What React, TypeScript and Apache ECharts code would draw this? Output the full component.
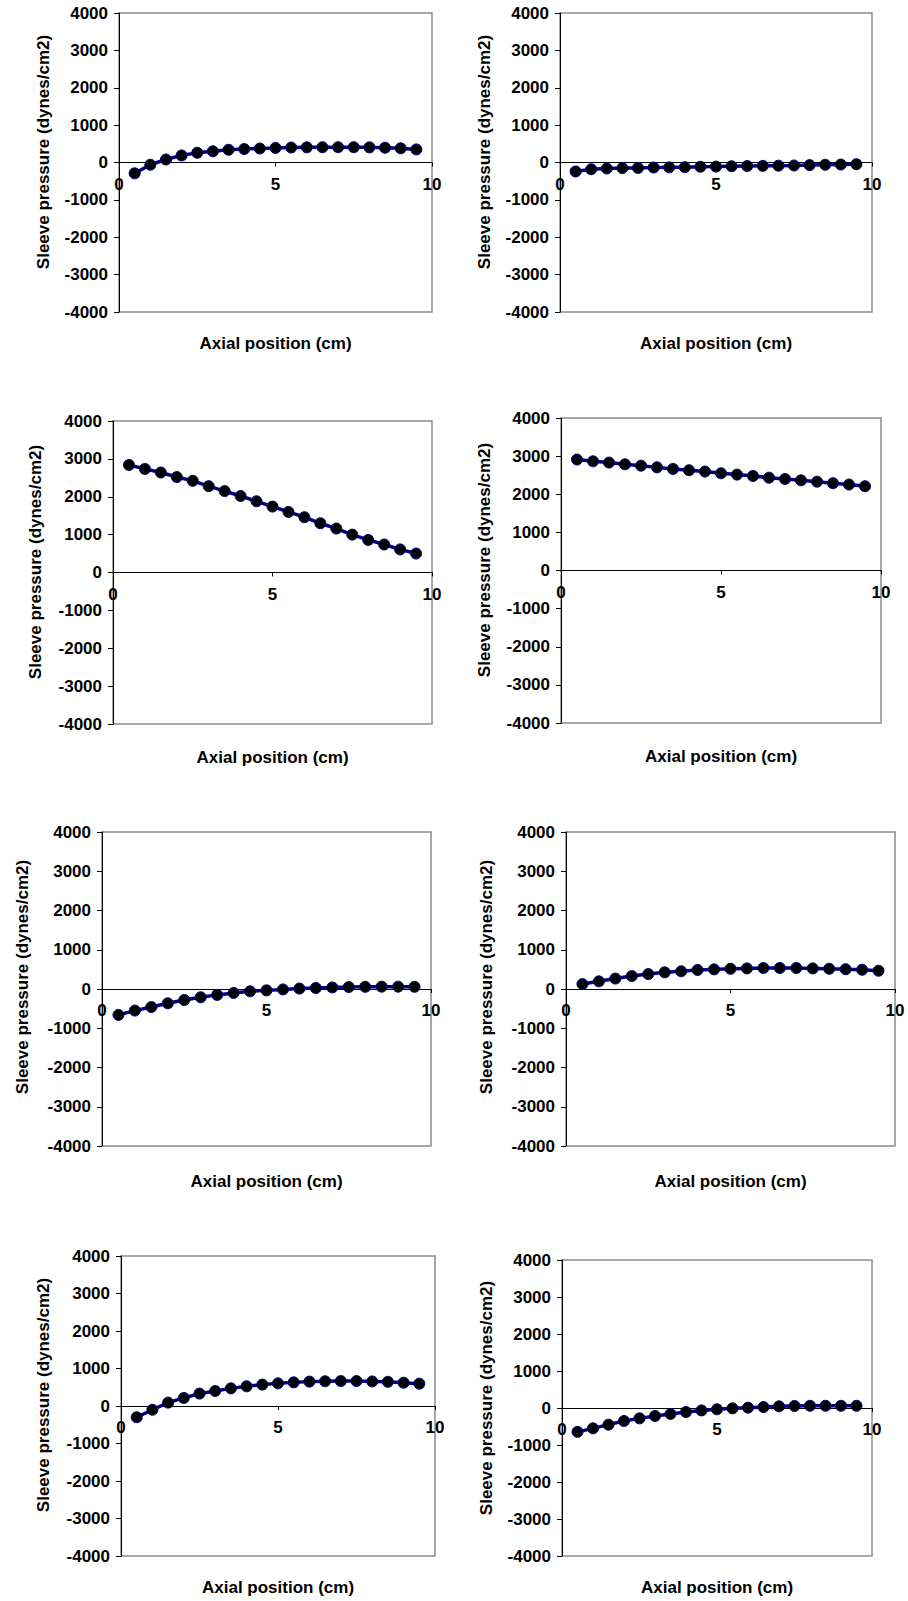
import React, { useEffect, useRef } from "react";
import * as echarts from "echarts";

// Axial positions (cm)
const positions = [0.5, 1.0, 1.5, 2.0, 2.5, 3.0, 3.5, 4.0, 4.5, 5.0, 5.5, 6.0, 6.5, 7.0, 7.5, 8.0, 8.5, 9.0, 9.5];

// Sleeve pressure (dynes/cm2) per panel
const panel1 = [-290, -60, 80, 190, 260, 300, 340, 360, 375, 390, 400, 405, 410, 410, 410, 405, 395, 380, 350];
const panel2 = [-240, -180, -160, -150, -145, -135, -130, -125, -115, -110, -100, -95, -90, -85, -80, -70, -60, -55, -45];
const panel3 = [2840, 2735, 2640, 2520, 2420, 2280, 2150, 2020, 1880, 1740, 1600, 1460, 1300, 1160, 1000, 860, 740, 610, 500];
const panel4 = [2910, 2865, 2830, 2785, 2750, 2705, 2665, 2630, 2595, 2550, 2515, 2480, 2435, 2400, 2365, 2330, 2290, 2255, 2210];
const panel5 = [-660, -550, -460, -365, -280, -210, -150, -100, -60, -35, -10, 10, 25, 40, 50, 55, 60, 60, 55];
const panel6 = [125, 195, 265, 330, 380, 425, 450, 485, 500, 515, 525, 535, 535, 535, 525, 515, 505, 490, 465];
const panel7 = [-300, -100, 90, 215, 330, 400, 470, 525, 570, 605, 630, 650, 660, 665, 665, 655, 645, 620, 595];
const panel8 = [-645, -550, -450, -350, -280, -215, -160, -110, -65, -35, -10, 10, 25, 45, 55, 60, 60, 60, 60];

const seriesData = [panel1, panel2, panel3, panel4, panel5, panel6, panel7, panel8];

// Axis ticks
const yMin = -4000;
const yMax = 4000;
const yStep = 1000;
const xMin = 0;
const xMax = 10;
const xStep = 5;
const xCross = 0; // x axis crosses the y axis at this value

const xTitle = "Axial position (cm)";
const yTitle = "Sleeve pressure (dynes/cm2)";

// Layout of each plot area (pixels)
const layout = [
  { l: 119, r: 432, t: 13, b: 312, xt: 343, yx: 43, yc: 152 },
  { l: 560, r: 872, t: 13, b: 312, xt: 343, yx: 484, yc: 152 },
  { l: 113, r: 432, t: 421, b: 724, xt: 757, yx: 35, yc: 562 },
  { l: 561, r: 881, t: 418, b: 723, xt: 756, yx: 484, yc: 560 },
  { l: 102, r: 431, t: 832, b: 1146, xt: 1181, yx: 22, yc: 977 },
  { l: 566, r: 895, t: 832, b: 1146, xt: 1181, yx: 486, yc: 977 },
  { l: 121, r: 435, t: 1256, b: 1556, xt: 1587, yx: 43, yc: 1395 },
  { l: 562, r: 872, t: 1260, b: 1556, xt: 1587, yx: 486, yc: 1398 },
];

const FONT = "'Liberation Sans', Arial, sans-serif";

export default function App() {
  const ref = useRef<HTMLDivElement>(null);

  useEffect(() => {
    if (!ref.current) return;
    const chart = echarts.init(ref.current, undefined, { renderer: "svg" });

    const grids = layout.map((p) => ({
      left: p.l,
      top: p.t,
      width: p.r - p.l,
      height: p.b - p.t,
      show: true,
      borderColor: "#8c8c8c",
      borderWidth: 1.5,
      backgroundColor: "#ffffff",
      containLabel: false,
    }));

    const xAxes = layout.map((p, i) => ({
      type: "value",
      gridIndex: i,
      min: xMin,
      max: xMax,
      interval: xStep,
      position: "bottom",
      offset: -((p.b - p.t) * (xCross - yMin)) / (yMax - yMin),
      axisLine: { show: true, onZero: false, lineStyle: { color: "#000", width: 1 } },
      axisTick: { show: true, length: 4, lineStyle: { color: "#000" } },
      axisLabel: {
        color: "#000",
        fontFamily: FONT,
        fontWeight: "bold",
        fontSize: 17,
        margin: 13,
        formatter: (v: number) => String(v),
      },
      splitLine: { show: false },
    }));

    const yAxes = layout.map((_, i) => ({
      type: "value",
      gridIndex: i,
      min: yMin,
      max: yMax,
      interval: yStep,
      axisLine: { show: true, onZero: false, lineStyle: { color: "#000", width: 1 } },
      axisTick: { show: true, length: 5, lineStyle: { color: "#000" } },
      axisLabel: {
        color: "#000",
        fontFamily: FONT,
        fontWeight: "bold",
        fontSize: 17,
        margin: 11,
        formatter: (v: number) => String(v),
      },
      splitLine: { show: false },
    }));

    const series = seriesData.map((vals, i) => ({
      type: "line",
      xAxisIndex: i,
      yAxisIndex: i,
      data: positions.map((x, k) => [x, vals[k]]),
      symbol: "circle",
      symbolSize: 11,
      lineStyle: { color: "#000080", width: 3.5 },
      itemStyle: { color: "#000000", borderColor: "#000080", borderWidth: 1 },
      z: 3,
    }));

    const graphics: any[] = [];
    layout.forEach((p) => {
      graphics.push({
        type: "text",
        x: (p.l + p.r) / 2,
        y: p.xt,
        style: {
          text: xTitle,
          fill: "#000",
          font: `bold 17px ${FONT}`,
          align: "center",
          verticalAlign: "middle",
        },
      });
      graphics.push({
        type: "text",
        x: p.yx,
        y: p.yc,
        rotation: Math.PI / 2,
        style: {
          text: yTitle,
          fill: "#000",
          font: `bold 17px ${FONT}`,
          align: "center",
          verticalAlign: "middle",
        },
      });
    });

    chart.setOption({
      animation: false,
      backgroundColor: "#ffffff",
      grid: grids,
      xAxis: xAxes,
      yAxis: yAxes,
      series,
      graphic: graphics,
    });

    return () => chart.dispose();
  }, []);

  return (
    <div
      ref={ref}
      style={{ position: "absolute", left: 0, top: 0, width: 908, height: 1601 }}
    />
  );
}
